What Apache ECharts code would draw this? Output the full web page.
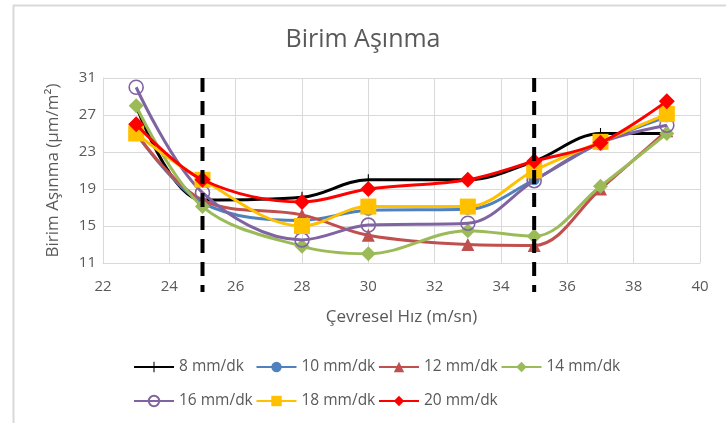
<!DOCTYPE html>
<html>
<head>
<meta charset="utf-8">
<script src="https://cdn.jsdelivr.net/npm/echarts@6/dist/echarts.min.js"></script>
<style>
  html, body { margin: 0; padding: 0; background: #fff; }
  #chart { width: 726px; height: 423px; }
</style>
</head>
<body>
<div id="chart"></div>
<script>
// Peripheral speed (m/sn) at which each wear value was measured
const speeds = [23, 25, 28, 30, 33, 35, 37, 39];

// Specific wear (µm/m²) per feed rate
const wear8 = [28, 17.8, 18.1, 20, 20, 22, 25, 25];
const wear10 = [25, 17.5, 15.6, 16.7, 16.8, 20, 24, 26.8];
const wear12 = [25, 17.8, 16.2, 14, 13, 12.9, 19, 25.3];
const wear14 = [28, 17.1, 12.8, 12, 14.5, 13.9, 19.3, 25];
const wear16 = [30, 18.6, 13.5, 15.1, 15.3, 19.9, 24, 25.9];
const wear18 = [25, 20, 15, 17.1, 17.1, 21, 24.1, 27.1];
const wear20 = [26, 20, 17.6, 19, 20, 22, 24, 28.5];

const seriesNames = ['8 mm/dk', '10 mm/dk', '12 mm/dk', '14 mm/dk', '16 mm/dk', '18 mm/dk', '20 mm/dk'];
const seriesValues = [wear8, wear10, wear12, wear14, wear16, wear18, wear20];

// Speed limits marked with dashed vertical lines
const limitSpeeds = [25, 35];

// Axis tick settings
const xMin = 22, xMax = 40, xStep = 2;
const yMin = 11, yMax = 31, yStep = 4;

const textColor = '#595959';
const gridColor = '#d9d9d9';
const fontFamily = '"Open Sans", "Noto Sans", sans-serif';

const plusPath = 'path://M-1,-10H1V-1H10V1H1V10H-1V1H-10V-1H-1Z';

const styles = [
  { color: '#000000', symbol: plusPath, symbolSize: 11, hollow: false },
  { color: '#4F81BD', symbol: 'circle', symbolSize: 11, hollow: false },
  { color: '#C0504D', symbol: 'triangle', symbolSize: 13, hollow: false },
  { color: '#9BBB59', symbol: 'diamond', symbolSize: 15, hollow: false },
  { color: '#8064A2', symbol: 'circle', symbolSize: 14, hollow: true },
  { color: '#FFC000', symbol: 'rect', symbolSize: 16, hollow: false },
  { color: '#FF0000', symbol: 'diamond', symbolSize: 16, hollow: false }
];

const lineSeries = seriesNames.map((name, i) => ({
  name: name,
  type: 'line',
  smooth: 0.35,
  data: speeds.map((s, j) => [s, seriesValues[i][j]]),
  symbol: styles[i].symbol,
  symbolSize: styles[i].symbolSize,
  showAllSymbol: true,
  lineStyle: { color: styles[i].color, width: 3 },
  itemStyle: {
    color: styles[i].hollow ? 'rgba(255,255,255,0)' : styles[i].color,
    borderColor: styles[i].color,
    borderWidth: styles[i].hollow ? 1.6 : 0
  },
  emphasis: { disabled: true },
  z: 2 + i
}));

const limitSeries = {
  type: 'custom',
  name: 'limits',
  clip: false,
  silent: true,
  z: 20,
  data: limitSpeeds.map(s => [s]),
  renderItem: function (params, api) {
    const top = api.coord([api.value(0), yMax]);
    const bottom = api.coord([api.value(0), yMin]);
    return {
      type: 'line',
      shape: { x1: top[0], y1: top[1], x2: bottom[0], y2: bottom[1] + 29 },
      style: { stroke: '#000000', lineWidth: 4, lineDash: [14, 9] }
    };
  }
};

// One legend per entry, laid out in fixed-width slots on two rows
const legendSlots = seriesNames.map((name, i) => ({
  data: [name],
  left: 133 + (i % 4) * 122.5,
  top: i < 4 ? 359 : 393,
  padding: 0,
  itemWidth: 40,
  itemHeight: 13,
  itemGap: 0,
  selectedMode: false,
  textStyle: { color: textColor, fontSize: 15.5, fontFamily: fontFamily }
}));

const chart = echarts.init(document.getElementById('chart'), null, { renderer: 'canvas' });
chart.setOption({
  animation: false,
  backgroundColor: '#ffffff',
  title: {
    text: 'Birim Aşınma',
    left: 'center',
    top: 22,
    textStyle: { color: textColor, fontSize: 25, fontWeight: 'normal', fontFamily: fontFamily }
  },
  legend: legendSlots,
  grid: { left: 103, right: 26, top: 78, bottom: 160 },
  xAxis: {
    type: 'value',
    min: xMin, max: xMax, interval: xStep,
    name: 'Çevresel Hız (m/sn)',
    nameLocation: 'middle',
    nameGap: 46,
    nameTextStyle: { color: textColor, fontSize: 17, fontFamily: fontFamily },
    axisLine: { show: true, lineStyle: { color: gridColor, width: 1 } },
    axisTick: { show: false },
    axisLabel: { color: textColor, fontSize: 15, margin: 16, fontFamily: fontFamily },
    splitLine: { show: true, lineStyle: { color: gridColor, width: 1 } }
  },
  yAxis: {
    type: 'value',
    min: yMin, max: yMax, interval: yStep,
    name: 'Birim Aşınma (µm/m²)',
    nameLocation: 'middle',
    nameGap: 41,
    nameTextStyle: { color: textColor, fontSize: 17, fontFamily: fontFamily },
    axisLine: { show: true, lineStyle: { color: gridColor, width: 1 } },
    axisTick: { show: false },
    axisLabel: { color: textColor, fontSize: 15, margin: 7, fontFamily: fontFamily },
    splitLine: { show: true, lineStyle: { color: gridColor, width: 1 } }
  },
  graphic: [
    {
      type: 'polyline',
      silent: true,
      shape: { points: [[13.5, 423], [13.5, 5.5], [726, 5.5]] },
      style: { stroke: gridColor, lineWidth: 2, fill: null }
    }
  ],
  series: lineSeries.concat([limitSeries])
});
</script>
</body>
</html>
